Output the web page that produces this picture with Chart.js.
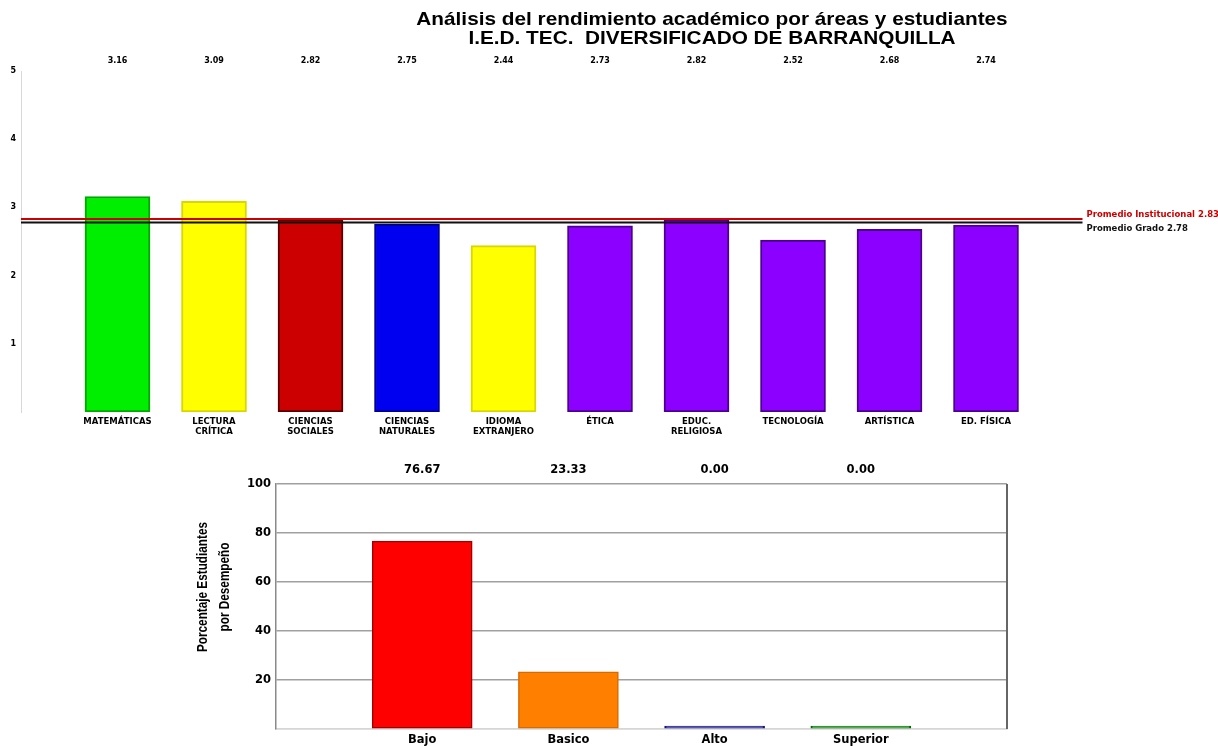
<!DOCTYPE html>
<html lang="es">
<head>
<meta charset="utf-8">
<title>Análisis del rendimiento académico</title>
<script src="https://cdn.jsdelivr.net/npm/chart.js@4.4.1/dist/chart.umd.min.js"></script>
<style>
  html, body { margin: 0; padding: 0; background: #fff; }
  body { width: 1218px; height: 746px; position: relative; overflow: hidden; }
  .box { position: absolute; left: 0; width: 1218px; }
  #areaBox { top: 0; height: 446px; }
  #nivelBox { top: 455px; height: 291px; }
</style>
</head>
<body>
<div class="box" id="areaBox"><canvas id="areas"></canvas></div>
<div class="box" id="nivelBox"><canvas id="niveles"></canvas></div>
<script>
// Promedio por área
const areas = [
  'MATEMÁTICAS', ['LECTURA', 'CRÍTICA'], ['CIENCIAS', 'SOCIALES'], ['CIENCIAS', 'NATURALES'],
  ['IDIOMA', 'EXTRANJERO'], 'ÉTICA', ['EDUC.', 'RELIGIOSA'], 'TECNOLOGÍA', 'ARTÍSTICA', 'ED. FÍSICA'
];
const promedios = [3.16, 3.09, 2.82, 2.75, 2.44, 2.73, 2.82, 2.52, 2.68, 2.74];
const areaFill = ['#00ee00', '#ffff00', '#cc0000', '#0000f0', '#ffff00', '#8c00ff', '#8c00ff', '#8c00ff', '#8c00ff', '#8c00ff'];
const areaBorde = ['#00a800', '#d8d800', '#5a0000', '#000090', '#d8d800', '#4b0090', '#4b0090', '#4b0090', '#4b0090', '#4b0090'];
const escalaNotas = { min: 0, max: 5, paso: 1 };

// Promedios de referencia
const refNombres = ['Promedio Institucional', 'Promedio Grado'];
const refValores = [2.83, 2.78];
const refColores = ['#cc0000', '#111111'];

// Porcentaje de estudiantes por desempeño
const desempenos = ['Bajo', 'Basico', 'Alto', 'Superior'];
const porcentajes = [76.67, 23.33, 0.00, 0.00];
const nivelFill = ['#ff0000', '#ff7f00', '#2a2ac0', '#22aa22'];
const nivelBorde = ['#a00000', '#d86a00', '#141470', '#006600'];
const escalaPct = { min: 0, max: 100, paso: 20 };

const titulo = ['Análisis del rendimiento académico por áreas y estudiantes', 'I.E.D. TEC.  DIVERSIFICADO DE BARRANQUILLA'];
const tituloEjeY = ['Porcentaje Estudiantes', 'por Desempeño'];

// Empty slots at both ends keep the bars away from the axis edges
const pad = arr => [null, ...arr, null];
const padLabels = arr => ['', ...arr, ''];

const SANS = '"Liberation Sans", Arial, sans-serif';
const DEJA = '"DejaVu Sans", sans-serif';

const areaExtras = {
  id: 'areaExtras',
  afterDatasetsDraw(chart) {
    const { ctx, chartArea, scales } = chart;
    ctx.save();
    // title, in a slightly extended bold face
    ctx.fillStyle = '#000';
    ctx.textAlign = 'center';
    ctx.textBaseline = 'middle';
    ctx.save();
    ctx.translate(712, 0);
    ctx.scale(1.13, 1);
    ctx.font = 'bold 18.4px ' + SANS;
    ctx.fillText(titulo[0], 0, 20);
    ctx.fillText(titulo[1], 0, 39);
    ctx.restore();
    // values on top row
    ctx.font = 'bold 8px ' + DEJA;
    const meta = chart.getDatasetMeta(0);
    meta.data.forEach((bar, i) => {
      const v = chart.data.datasets[0].data[i];
      if (v == null) return;
      ctx.fillText(v.toFixed(2), bar.x, 61);
    });
    // reference lines
    refValores.forEach((v, i) => {
      const y = scales.y.getPixelForValue(v);
      ctx.strokeStyle = refColores[i];
      ctx.lineWidth = 2;
      ctx.beginPath();
      ctx.moveTo(chartArea.left, y);
      ctx.lineTo(chartArea.right, y);
      ctx.stroke();
      ctx.fillStyle = refColores[i];
      ctx.textAlign = 'left';
      ctx.font = 'bold 8.5px ' + DEJA;
      ctx.fillText(refNombres[i] + ' ' + v.toFixed(2), chartArea.right + 4, y + (i === 0 ? -4 : 6));
    });
    ctx.restore();
  }
};

new Chart(document.getElementById('areas'), {
  type: 'bar',
  data: {
    labels: padLabels(areas),
    datasets: [{
      data: pad(promedios),
      backgroundColor: pad(areaFill),
      borderColor: pad(areaBorde),
      borderWidth: 2,
      borderSkipped: false,
      barThickness: 65
    }]
  },
  options: {
    responsive: true,
    maintainAspectRatio: false,
    animation: false,
    layout: { padding: { top: 71, right: 135.5, left: 0, bottom: 0 } },
    plugins: { legend: { display: false }, tooltip: { enabled: false }, title: { display: false } },
    scales: {
      x: {
        offset: false,
        grid: { display: false, drawTicks: false },
        border: { display: false },
        ticks: {
          autoSkip: false, maxRotation: 0, minRotation: 0, padding: 4,
          color: '#000', font: { family: DEJA, size: 8.5, weight: 'bold', lineHeight: 1.25 }
        },
        afterFit(s) { s.height = 34; }
      },
      y: {
        min: escalaNotas.min, max: escalaNotas.max,
        grid: { display: false, drawTicks: false },
        border: { display: true, color: '#d8d8d8', width: 1 },
        ticks: {
          stepSize: escalaNotas.paso, padding: 5, color: '#000',
          font: { family: DEJA, size: 8, weight: 'bold' },
          callback: v => (v === 0 ? '' : v)
        },
        afterFit(s) { s.width = 21; }
      }
    }
  },
  plugins: [areaExtras]
});

const nivelExtras = {
  id: 'nivelExtras',
  afterDatasetsDraw(chart) {
    const { ctx, chartArea } = chart;
    ctx.save();
    // right frame line
    ctx.strokeStyle = '#666';
    ctx.lineWidth = 2;
    ctx.beginPath();
    ctx.moveTo(chartArea.right, chartArea.top);
    ctx.lineTo(chartArea.right, chartArea.bottom);
    ctx.stroke();
    // values above the plot
    ctx.fillStyle = '#000';
    ctx.textAlign = 'center';
    ctx.textBaseline = 'middle';
    ctx.font = 'bold 11.5px ' + DEJA;
    const meta = chart.getDatasetMeta(0);
    meta.data.forEach((bar, i) => {
      const v = chart.data.datasets[0].data[i];
      if (v == null) return;
      ctx.fillText(v.toFixed(2), bar.x, 15);
    });
    // vertical axis title, set in a condensed bold face
    ctx.translate(214, 132);
    ctx.rotate(-Math.PI / 2);
    ctx.scale(0.84, 1);
    ctx.font = 'bold 14px ' + SANS;
    ctx.fillText(tituloEjeY[0], 0, -11);
    ctx.fillText(tituloEjeY[1], 0, 11);
    ctx.restore();
  }
};

new Chart(document.getElementById('niveles'), {
  type: 'bar',
  data: {
    labels: padLabels(desempenos),
    datasets: [{
      data: pad(porcentajes),
      backgroundColor: pad(nivelFill),
      borderColor: pad(nivelBorde),
      borderWidth: 1.5,
      borderSkipped: false,
      barThickness: 100,
      minBarLength: 3
    }]
  },
  options: {
    responsive: true,
    maintainAspectRatio: false,
    animation: false,
    layout: { padding: { top: 29, right: 211, left: 0, bottom: 0 } },
    plugins: { legend: { display: false }, tooltip: { enabled: false }, title: { display: false } },
    scales: {
      x: {
        offset: false,
        grid: { display: false, drawTicks: false },
        border: { display: true, color: '#d6d6d6', width: 1.5 },
        ticks: {
          autoSkip: false, maxRotation: 0, minRotation: 0, padding: 4,
          color: '#000', font: { family: DEJA, size: 11.5, weight: 'bold' }
        },
        afterFit(s) { s.height = 17; }
      },
      y: {
        min: escalaPct.min, max: escalaPct.max,
        grid: {
          drawTicks: false,
          color: c => (c.tick && c.tick.value === 0 ? '#d6d6d6' : '#a0a0a0'),
          lineWidth: 1.5
        },
        border: { display: true, color: '#8a8a8a', width: 1.5 },
        ticks: {
          stepSize: escalaPct.paso, padding: 5, color: '#000',
          font: { family: DEJA, size: 11.5, weight: 'bold' },
          callback: v => (v === 0 ? '' : v)
        },
        afterFit(s) { s.width = 276; }
      }
    }
  },
  plugins: [nivelExtras]
});
</script>
</body>
</html>
